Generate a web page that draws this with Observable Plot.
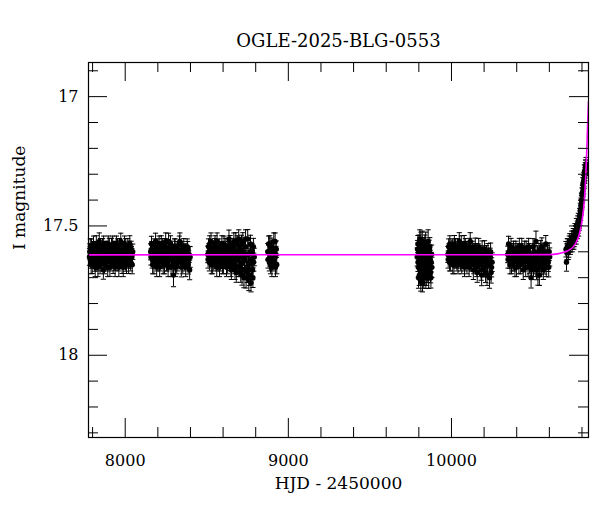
<!DOCTYPE html>
<html><head><meta charset="utf-8">
<script src="https://cdn.jsdelivr.net/npm/d3@7"></script>
<script src="https://cdn.jsdelivr.net/npm/@observablehq/plot@0.6"></script>
<style>html,body{margin:0;padding:0;background:#fff;}</style>
</head><body><div id="chart"></div>
<script>
// ---- Text ----
const titleText = "OGLE-2025-BLG-0553";
const xLabelText = "HJD - 2450000";
const yLabelText = "I magnitude";

// ---- Axes / ticks ----
const xDomain = [7775, 10840];
const yDomain = [16.868, 18.318];
const xMajorTicks = [8000, 9000, 10000];
const xMinorTicks = [7800, 8200, 8400, 8600, 8800, 9200, 9400, 9600, 9800, 10200, 10400, 10600, 10800];
const yMajorTicks = [17, 17.5, 18];
const yMinorTicks = [16.9, 17.1, 17.2, 17.3, 17.4, 17.6, 17.7, 17.8, 17.9, 18.1, 18.2, 18.3];

// ---- Photometry: [HJD-2450000, I mag, error] ----
const season1 = [[7781,17.62,.032],[7786,17.58,.030],[7791,17.65,.035],[7796,17.60,.030],[7801,17.63,.033],[7806,17.57,.031],[7811,17.61,.029],[7816,17.66,.036],[7821,17.59,.030],[7826,17.64,.034],[7831,17.60,.031],[7836,17.62,.030],[7841,17.56,.033],[7846,17.65,.035],[7851,17.61,.030],[7856,17.63,.032],[7861,17.58,.031],[7866,17.67,.036],[7871,17.60,.030],[7876,17.62,.033],[7881,17.59,.030],[7886,17.64,.034],[7891,17.61,.029],[7896,17.57,.031],[7901,17.63,.032],[7906,17.66,.035],[7911,17.60,.030],[7916,17.58,.032],[7921,17.62,.031],[7926,17.65,.034],[7931,17.59,.030],[7936,17.61,.029],[7941,17.64,.033],[7946,17.57,.031],[7951,17.63,.032],[7956,17.60,.030],[7961,17.66,.036],[7966,17.58,.031],[7971,17.62,.030],[7976,17.61,.032],[7981,17.65,.034],[7986,17.59,.030],[7991,17.63,.033],[7996,17.57,.031],[8001,17.64,.035],[8006,17.60,.030],[8011,17.62,.032],[8016,17.58,.031],[8021,17.65,.034],[8026,17.61,.030],[8031,17.63,.033],[8036,17.59,.031],[8041,17.62,.032],[8046,17.60,.030],
  [7783,17.60,.031],[7788,17.63,.033],[7793,17.58,.030],[7798,17.65,.034],[7803,17.61,.031],[7808,17.59,.030],[7813,17.64,.035],[7818,17.62,.031],[7823,17.57,.032],[7828,17.61,.030],[7833,17.66,.036],[7838,17.59,.030],[7843,17.63,.033],[7848,17.58,.031],[7853,17.64,.034],[7858,17.60,.030],[7863,17.62,.032],[7868,17.57,.031],[7873,17.65,.035],[7878,17.61,.030],[7883,17.63,.033],[7888,17.59,.031],[7893,17.66,.036],[7898,17.60,.030],[7903,17.58,.032],[7908,17.62,.031],[7913,17.64,.034],[7918,17.60,.030],[7923,17.57,.031],[7928,17.63,.033],[7933,17.61,.030],[7938,17.66,.036],[7943,17.59,.031],[7948,17.62,.032],[7953,17.58,.030],[7958,17.64,.034],[7963,17.61,.031],[7968,17.63,.033],[7973,17.56,.032],[7978,17.60,.030],[7983,17.62,.031],[7988,17.66,.036],[7993,17.60,.030],[7998,17.62,.032],[8003,17.58,.031],[8008,17.65,.034],[8013,17.61,.030],[8018,17.63,.033],[8023,17.59,.031],[8028,17.57,.032],[8033,17.64,.034],[8038,17.61,.030],[8043,17.65,.035]];
const season2 = [[8156,17.60,.031],[8161,17.57,.030],[8166,17.63,.033],[8171,17.59,.030],[8176,17.65,.035],[8181,17.61,.031],[8186,17.56,.032],[8191,17.62,.030],[8196,17.64,.034],[8201,17.58,.030],[8206,17.61,.031],[8211,17.66,.036],[8216,17.60,.030],[8221,17.57,.032],[8226,17.63,.033],[8231,17.59,.030],[8236,17.62,.031],[8241,17.65,.035],[8246,17.58,.031],[8251,17.61,.030],[8256,17.64,.034],[8261,17.60,.030],[8266,17.56,.032],[8271,17.63,.033],[8276,17.61,.030],[8281,17.66,.036],[8286,17.59,.031],[8291,17.62,.030],[8296,17.69,.045],[8301,17.64,.034],[8306,17.58,.030],[8311,17.61,.031],[8316,17.65,.035],[8321,17.60,.030],[8326,17.63,.033],[8332,17.57,.031],[8338,17.62,.030],[8344,17.66,.037],[8350,17.59,.030],[8356,17.61,.032],[8362,17.64,.034],[8368,17.60,.031],[8374,17.63,.033],[8380,17.58,.030],[8386,17.65,.036],[8392,17.61,.031],[8398,17.62,.040],
  [8158,17.62,.031],[8163,17.59,.030],[8168,17.65,.035],[8173,17.61,.031],[8178,17.58,.030],[8183,17.63,.033],[8188,17.60,.031],[8193,17.66,.036],[8198,17.59,.030],[8203,17.62,.032],[8208,17.57,.031],[8213,17.64,.034],[8218,17.61,.030],[8223,17.63,.033],[8228,17.58,.031],[8233,17.65,.035],[8238,17.60,.030],[8243,17.62,.032],[8248,17.56,.033],[8253,17.64,.034],[8258,17.61,.030],[8263,17.66,.036],[8268,17.59,.031],[8273,17.62,.030],[8278,17.57,.032],[8283,17.63,.033],[8288,17.60,.030],[8293,17.65,.035],[8298,17.61,.031],[8303,17.58,.030],[8308,17.66,.036],[8313,17.62,.032],[8318,17.59,.030],[8323,17.64,.034],[8329,17.61,.031],[8335,17.56,.033],[8341,17.63,.032],[8347,17.60,.030],[8353,17.65,.035],[8359,17.58,.031],[8365,17.62,.032],[8371,17.66,.036],[8377,17.61,.031],[8383,17.59,.030],[8389,17.63,.034],[8395,17.67,.038]];
const season3 = [[8506,17.61,.032],[8511,17.58,.030],[8516,17.64,.034],[8521,17.60,.031],[8526,17.56,.033],[8531,17.62,.030],[8536,17.65,.035],[8541,17.59,.031],[8546,17.61,.030],[8551,17.57,.032],[8556,17.63,.033],[8561,17.66,.036],[8566,17.60,.030],[8571,17.62,.031],[8576,17.58,.030],[8581,17.64,.034],[8586,17.61,.031],[8591,17.59,.030],[8596,17.65,.035],[8601,17.62,.032],[8606,17.57,.031],[8611,17.63,.033],[8616,17.60,.030],[8621,17.66,.036],[8626,17.58,.031],[8631,17.62,.030],[8636,17.55,.034],[8641,17.64,.033],[8646,17.61,.031],[8651,17.67,.037],[8656,17.59,.030],[8661,17.63,.032],[8666,17.56,.033],[8671,17.65,.035],[8676,17.60,.031],[8681,17.68,.038],[8686,17.57,.032],[8691,17.62,.030],[8696,17.55,.035],[8701,17.66,.036],[8706,17.59,.031],[8711,17.64,.034],[8716,17.69,.039],[8721,17.56,.034],[8726,17.62,.032],[8731,17.67,.037],[8736,17.58,.033],[8741,17.70,.040],[8746,17.61,.032],[8751,17.55,.036],[8756,17.65,.035],[8761,17.69,.040],[8766,17.60,.033],[8771,17.72,.035],[8776,17.63,.034],[8781,17.67,.038],[8786,17.58,.032],[8791,17.62,.034],
  [8508,17.63,.033],[8513,17.60,.031],[8518,17.57,.032],[8523,17.62,.030],[8528,17.65,.035],[8533,17.59,.031],[8538,17.61,.030],[8543,17.64,.034],[8548,17.58,.031],[8553,17.62,.032],[8558,17.60,.030],[8563,17.56,.033],[8568,17.64,.034],[8573,17.61,.031],[8578,17.66,.036],[8583,17.59,.030],[8588,17.63,.033],[8593,17.57,.032],[8598,17.61,.030],[8603,17.65,.035],[8608,17.60,.031],[8613,17.58,.032],[8618,17.63,.033],[8623,17.61,.031],[8628,17.65,.035],[8633,17.59,.030],[8638,17.62,.032],[8643,17.57,.033],[8648,17.66,.036],[8653,17.60,.031],[8658,17.63,.033],[8663,17.58,.032],[8668,17.62,.030],[8673,17.67,.037],[8678,17.56,.034],[8683,17.63,.033],[8688,17.60,.031],[8693,17.66,.036],[8698,17.58,.032],[8703,17.62,.031],[8708,17.68,.038],[8713,17.57,.034],[8718,17.64,.034],[8723,17.60,.032],[8728,17.70,.039],[8733,17.63,.034],[8738,17.55,.035],[8743,17.66,.036],[8748,17.68,.039],[8753,17.61,.033],[8758,17.71,.040],[8763,17.64,.035],[8768,17.57,.034],[8773,17.67,.037],[8778,17.60,.033],[8783,17.70,.038],[8788,17.64,.035]];
const season4 = [[8874,17.60,.032],[8879,17.57,.031],[8884,17.64,.034],[8889,17.61,.030],[8894,17.58,.033],[8899,17.66,.036],[8904,17.62,.031],[8909,17.59,.032],[8914,17.63,.034],[8919,17.56,.033],[8924,17.61,.031],[8929,17.65,.035],
  [8876,17.63,.033],[8881,17.60,.031],[8886,17.57,.032],[8891,17.65,.035],[8896,17.61,.031],[8901,17.59,.032],[8906,17.64,.034],[8911,17.56,.033],[8916,17.62,.031],[8921,17.66,.036],[8926,17.59,.032]];
const season5 = [[9790,17.62,.035],[9794,17.57,.033],[9797,17.66,.038],[9800,17.60,.034],[9803,17.69,.040],[9806,17.55,.035],[9809,17.63,.036],[9812,17.71,.042],[9815,17.59,.034],[9818,17.65,.037],[9821,17.56,.040],[9824,17.68,.039],[9827,17.61,.035],[9830,17.70,.041],[9833,17.58,.034],[9836,17.64,.036],[9839,17.67,.038],[9842,17.57,.046],[9845,17.62,.035],[9848,17.69,.040],[9851,17.60,.034],[9854,17.66,.037],[9857,17.56,.045],[9860,17.70,.042],[9863,17.59,.035],[9866,17.65,.037],[9869,17.61,.036],[9872,17.68,.040],[9876,17.64,.038],[9880,17.66,.039],
  [9792,17.59,.034],[9795,17.64,.036],[9798,17.70,.041],[9801,17.57,.035],[9804,17.63,.036],[9807,17.67,.039],[9810,17.60,.034],[9813,17.56,.036],[9816,17.68,.040],[9819,17.62,.035],[9822,17.72,.035],[9825,17.58,.034],[9828,17.65,.037],[9831,17.61,.035],[9834,17.69,.040],[9837,17.57,.035],[9840,17.63,.036],[9843,17.70,.041],[9846,17.59,.034],[9849,17.65,.037],[9852,17.62,.035],[9855,17.68,.039],[9858,17.60,.035],[9861,17.64,.036],[9864,17.67,.039],[9867,17.58,.035],[9870,17.63,.036],[9874,17.70,.040],[9878,17.61,.036]];
const season6 = [[9978,17.61,.031],[9983,17.58,.030],[9988,17.64,.034],[9993,17.60,.031],[9998,17.62,.030],[10003,17.59,.032],[10008,17.65,.035],[10013,17.61,.031],[10018,17.57,.033],[10023,17.63,.032],[10028,17.60,.030],[10033,17.64,.034],[10038,17.58,.031],[10043,17.62,.030],[10048,17.56,.034],[10053,17.63,.033],[10058,17.60,.031],[10063,17.65,.035],[10068,17.59,.030],[10073,17.62,.032],[10078,17.57,.033],[10083,17.64,.034],[10088,17.61,.031],[10093,17.59,.030],[10098,17.63,.033],[10103,17.60,.031],[10108,17.66,.036],[10113,17.58,.032],[10118,17.62,.031],[10123,17.64,.034],[10128,17.60,.030],[10134,17.67,.037],[10140,17.61,.032],[10146,17.58,.033],[10152,17.63,.034],[10158,17.68,.038],[10164,17.60,.031],[10170,17.65,.035],[10176,17.62,.033],[10182,17.67,.040],[10188,17.59,.032],[10194,17.64,.035],[10200,17.61,.033],[10206,17.66,.036],[10212,17.63,.034],[10218,17.69,.040],[10224,17.60,.032],[10230,17.65,.036],[10237,17.62,.034],[10243,17.68,.041],[10249,17.64,.036],
  [9980,17.63,.033],[9985,17.60,.031],[9990,17.57,.032],[9995,17.64,.034],[10000,17.61,.031],[10005,17.58,.030],[10010,17.62,.032],[10015,17.65,.035],[10020,17.60,.031],[10025,17.58,.030],[10030,17.63,.033],[10035,17.61,.031],[10040,17.65,.035],[10045,17.59,.030],[10050,17.62,.032],[10055,17.64,.034],[10060,17.57,.032],[10065,17.61,.031],[10070,17.63,.033],[10075,17.60,.030],[10080,17.66,.036],[10085,17.58,.031],[10090,17.62,.032],[10095,17.65,.035],[10100,17.59,.030],[10105,17.63,.033],[10110,17.61,.031],[10115,17.56,.034],[10120,17.64,.034],[10125,17.62,.032],[10131,17.59,.031],[10137,17.65,.035],[10143,17.63,.034],[10149,17.60,.032],[10155,17.66,.036],[10161,17.62,.033],[10167,17.58,.032],[10173,17.64,.035],[10179,17.61,.033],[10185,17.69,.041],[10191,17.62,.034],[10197,17.66,.037],[10203,17.59,.033],[10209,17.68,.039],[10215,17.61,.034],[10221,17.65,.036],[10227,17.62,.034],[10233,17.70,.041],[10240,17.60,.034],[10246,17.66,.037]];
const season7 = [[10345,17.61,.032],[10350,17.57,.030],[10356,17.63,.034],[10362,17.60,.031],[10368,17.65,.035],[10374,17.62,.032],[10380,17.59,.031],[10386,17.64,.034],[10392,17.61,.032],[10398,17.66,.036],[10404,17.60,.031],[10410,17.63,.033],[10416,17.58,.032],[10422,17.65,.035],[10428,17.62,.033],[10434,17.60,.031],[10440,17.67,.037],[10446,17.61,.032],[10452,17.64,.034],[10458,17.59,.031],[10464,17.63,.034],[10470,17.66,.036],[10476,17.60,.032],[10482,17.62,.033],[10488,17.70,.040],[10494,17.64,.035],[10500,17.58,.031],[10506,17.61,.033],[10512,17.65,.035],[10518,17.56,.040],[10524,17.63,.034],[10530,17.69,.039],[10536,17.60,.032],[10542,17.66,.036],[10548,17.62,.033],[10554,17.58,.034],[10560,17.64,.035],[10566,17.61,.032],[10572,17.65,.036],[10578,17.57,.033],[10584,17.63,.035],[10590,17.60,.034],[10596,17.66,.037],[10602,17.62,.035],
  [10347,17.63,.033],[10353,17.60,.031],[10359,17.65,.035],[10365,17.58,.032],[10371,17.62,.032],[10377,17.64,.034],[10383,17.60,.031],[10389,17.66,.036],[10395,17.59,.031],[10401,17.63,.033],[10407,17.61,.032],[10413,17.65,.035],[10419,17.60,.031],[10425,17.63,.034],[10431,17.58,.032],[10437,17.64,.034],[10443,17.62,.033],[10449,17.59,.031],[10455,17.66,.036],[10461,17.61,.032],[10467,17.63,.034],[10473,17.58,.032],[10479,17.65,.035],[10485,17.61,.033],[10491,17.67,.037],[10497,17.62,.034],[10503,17.66,.036],[10509,17.60,.032],[10515,17.63,.034],[10521,17.67,.038],[10527,17.61,.033],[10533,17.64,.035],[10539,17.69,.040],[10545,17.59,.034],[10551,17.65,.036],[10557,17.62,.034],[10563,17.67,.037],[10569,17.60,.033],[10575,17.63,.035],[10581,17.66,.036],[10587,17.61,.034],[10593,17.64,.036],[10599,17.60,.034]];
const season8 = [[10702,17.59,.030],[10705,17.64,.035],[10710,17.58,.031],[10716,17.60,.030],[10722,17.57,.031],[10728,17.58,.030],[10734,17.56,.031],[10740,17.57,.030],[10745,17.55,.031],[10750,17.56,.030],[10755,17.54,.030],[10760,17.53,.030],[10764,17.54,.030],[10768,17.52,.029],[10772,17.51,.029],[10776,17.50,.029],[10780,17.51,.029],[10784,17.48,.028],[10788,17.47,.028],[10792,17.45,.028],[10795,17.43,.028],[10798,17.41,.027],[10801,17.40,.027],[10804,17.38,.027],[10807,17.36,.027],[10810,17.35,.026],[10813,17.33,.026],[10816,17.31,.026],[10819,17.29,.025],[10822,17.27,.025],[10825,17.26,.025],
  [10707,17.60,.031],[10713,17.58,.030],[10719,17.59,.031],[10725,17.56,.030],[10731,17.57,.031],[10737,17.55,.030],[10742,17.56,.030],[10747,17.54,.030],[10752,17.55,.030],[10757,17.52,.029],[10762,17.53,.030],[10766,17.50,.029],[10770,17.52,.029],[10774,17.49,.029],[10778,17.48,.029],[10782,17.49,.028],[10786,17.46,.028],[10790,17.44,.028],[10794,17.42,.028],[10797,17.40,.027],[10800,17.38,.027],[10803,17.37,.027],[10806,17.34,.027],[10809,17.33,.026],[10812,17.32,.026],[10815,17.29,.026],[10818,17.30,.025],[10821,17.28,.025],[10824,17.27,.025]];

// ---- Model light curve: [HJD-2450000, I mag] ----
const modelCurve = [[7775,17.612],[10600,17.611],[10650,17.608],[10690,17.602],[10710,17.597],[10730,17.590],[10750,17.578],[10765,17.563],[10780,17.540],[10795,17.500],[10805,17.460],[10812,17.420],[10818,17.370],[10823,17.310],[10827,17.250],[10831,17.180],[10834,17.120],[10837,17.070],[10840,17.020]];

const obs = [season1, season2, season3, season4, season5, season6, season7, season8]
  .flat().map(([t, m, e]) => ({t, m, e}));

const capSymbol = {draw(ctx, size) { const r = Math.sqrt(size / Math.PI); ctx.moveTo(-r, 0); ctx.lineTo(r, 0); }};

const W = 600, H = 512, mL = 88, mR = 12, mT = 62, mB = 75;
const fw = W - mL - mR, fh = H - mT - mB;
const majLen = 19, minLen = 10;

const chart = Plot.plot({
  width: W, height: H,
  marginLeft: mL, marginRight: mR, marginTop: mT, marginBottom: mB,
  style: {fontFamily: "'DejaVu Serif', serif", fontSize: "16px", color: "black", background: "white"},
  x: {domain: xDomain},
  y: {domain: yDomain, reverse: true},
  marks: [
    Plot.ruleX(obs, {x: "t", y1: d => d.m - d.e, y2: d => d.m + d.e, stroke: "black", strokeWidth: 1}),
    Plot.dot(obs, {x: "t", y: d => d.m - d.e, symbol: capSymbol, r: 2.6, fill: "none", stroke: "black", strokeWidth: 1}),
    Plot.dot(obs, {x: "t", y: d => d.m + d.e, symbol: capSymbol, r: 2.6, fill: "none", stroke: "black", strokeWidth: 1}),
    Plot.dot(obs, {x: "t", y: "m", r: 2.7, fill: "black", stroke: "none"}),
    Plot.line(modelCurve, {x: d => d[0], y: d => d[1], stroke: "#ff00ff", strokeWidth: 1.6, curve: "monotone-x", clip: true}),
    // inward ticks
    Plot.tickX(xMajorTicks, {x: d => d, insetTop: fh - majLen, stroke: "black", strokeWidth: 1}),
    Plot.tickX(xMinorTicks, {x: d => d, insetTop: fh - minLen, stroke: "black", strokeWidth: 1}),
    Plot.tickX(xMajorTicks, {x: d => d, insetBottom: fh - majLen, stroke: "black", strokeWidth: 1}),
    Plot.tickX(xMinorTicks, {x: d => d, insetBottom: fh - minLen, stroke: "black", strokeWidth: 1}),
    Plot.tickY(yMajorTicks, {y: d => d, insetRight: fw - majLen, stroke: "black", strokeWidth: 1}),
    Plot.tickY(yMinorTicks, {y: d => d, insetRight: fw - minLen, stroke: "black", strokeWidth: 1}),
    Plot.tickY(yMajorTicks, {y: d => d, insetLeft: fw - majLen, stroke: "black", strokeWidth: 1}),
    Plot.tickY(yMinorTicks, {y: d => d, insetLeft: fw - minLen, stroke: "black", strokeWidth: 1}),
    Plot.frame({stroke: "black", strokeWidth: 1.2}),
    Plot.axisX(xMajorTicks, {tickSize: 0, tickPadding: 17, tickFormat: d => String(d), label: null, fontSize: 16}),
    Plot.axisY(yMajorTicks, {tickSize: 0, tickPadding: 10, tickFormat: d => String(d), label: null, fontSize: 16}),
    Plot.text([xLabelText], {text: d => d, frameAnchor: "bottom", dy: 51, fontSize: 17, fill: "black"}),
    Plot.text([yLabelText], {text: d => d, frameAnchor: "left", dx: -69, rotate: -90, fontSize: 17, fill: "black"}),
    Plot.text([titleText], {text: d => d, frameAnchor: "top", dy: -28, fontSize: 18, fill: "black"})
  ]
});
document.getElementById("chart").appendChild(chart);
</script>
</body></html>
